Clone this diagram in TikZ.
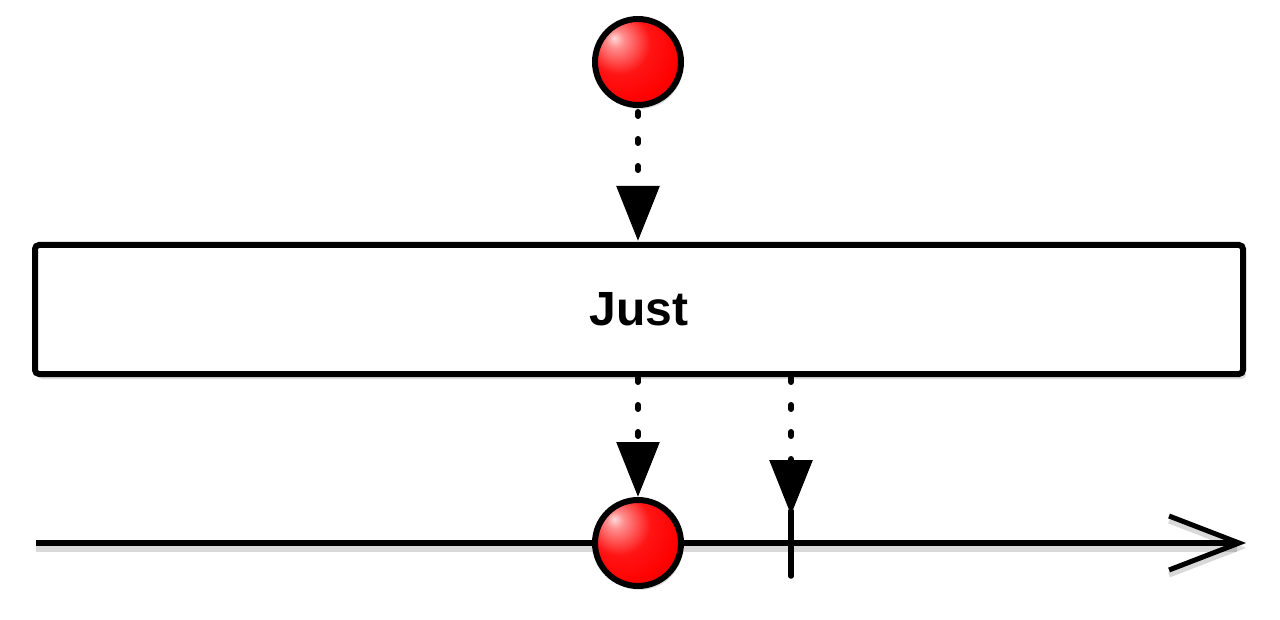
\documentclass[tikz,border=0pt]{standalone}
\usepackage{fontspec}
\setmainfont{Liberation Sans}
\usetikzlibrary{arrows.meta,shadows}
\pgfdeclareradialshading{redball}{\pgfpoint{-14bp}{14bp}}{%
  color(0bp)=(red!15!white);
  color(5bp)=(red!45!white);
  color(18bp)=(red!92!white);
  color(32bp)=(red);
  color(48bp)=(red!82!black);
  color(62bp)=(red!50!black);
  color(80bp)=(red!50!black)}
\tikzset{
  ballnode/.style={circle, draw=black, line width=6pt, minimum size=86pt, inner sep=0pt,
    shading=redball, drop shadow={shadow xshift=2pt, shadow yshift=-4pt, opacity=0.25}},
  opbox/.style={draw=black, fill=white, line width=6pt, rounded corners=4pt,
    minimum width=1208pt, minimum height=129pt, inner sep=0pt,
    drop shadow={shadow xshift=3pt, shadow yshift=-5pt, opacity=0.25},
    font=\fontsize{48}{54}\selectfont\bfseries},
  dotarrow/.style={line width=6pt, line cap=round, dash pattern=on 4pt off 23pt,
    -{Triangle[length=55pt,width=42pt]}},
  lineshadow/.style={preaction={draw=black, draw opacity=0.15, line width=8pt,
    transform canvas={yshift=-5pt}}},
  timeline/.style={line width=6pt, lineshadow,
    -{Straight Barb[length=70pt,width=54pt,line width=5pt]}},
  tickline/.style={line width=5.5pt, line cap=round}
}
\begin{document}
\begin{tikzpicture}[x=1pt,y=-1pt]
\useasboundingbox (0,0) rectangle (1280,620);
% timeline behind the bottom ball
\coordinate (tl0) at (36,543);
\coordinate (tl1) at (1246,543);
\draw[timeline] (tl0) -- (tl1);
\coordinate (tk0) at (791,511);
\coordinate (tk1) at (791,576);
\draw[tickline] (tk0) -- (tk1);
% nodes
\node[ballnode] (ball1) at (638,62) {};
\node[opbox] (box) at (639,309.5) {Just};
\node[ballnode] (ball2) at (638,543) {};
% connectors
\coordinate (boxin) at (638,241);
\coordinate (boxout1) at (638,378);
\coordinate (boxout2) at (791,378);
\draw[dotarrow] (ball1.south) ++(0,4) -- (boxin);
\draw[dotarrow] (boxout1) -- (ball2.north);
\draw[dotarrow] (boxout2) -- ([yshift=-4pt]tk0);
\end{tikzpicture}
\end{document}
